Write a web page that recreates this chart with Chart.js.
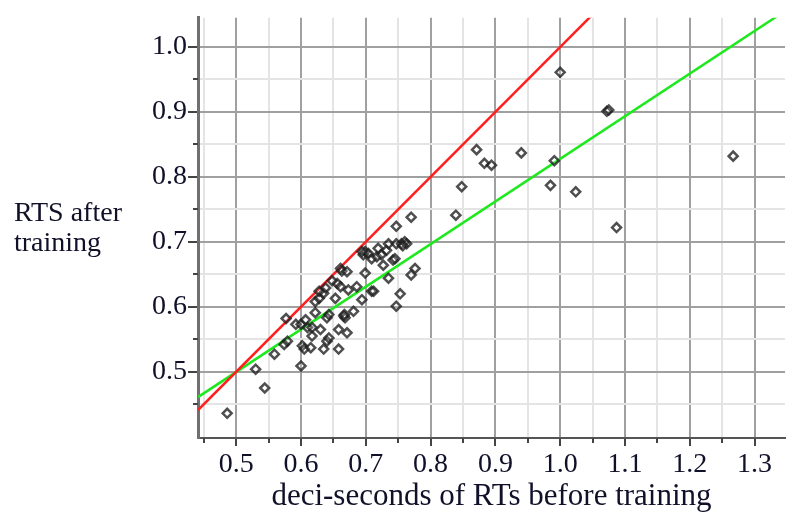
<!DOCTYPE html>
<html>
<head>
<meta charset="utf-8">
<script src="https://cdn.jsdelivr.net/npm/chart.js@4.4.1/dist/chart.umd.min.js"></script>
<style>
  html, body { margin: 0; padding: 0; background: #fff; }
  #wrap { width: 792px; height: 515px; position: relative; }
</style>
</head>
<body>
<div id="wrap"><canvas id="myChart" width="792" height="515"></canvas></div>
<script>
// RT before training (x) vs after training (y), deci-seconds
const rtBefore = [0.486, 0.544, 0.530, 0.559, 0.577, 0.600, 0.574, 0.579, 0.592, 0.600,
    0.607, 0.610, 0.602, 0.605, 0.615, 0.617, 0.617, 0.630, 0.622, 0.622,
    0.628, 0.635, 0.628, 0.638, 0.635, 0.640, 0.643, 0.658, 0.658, 0.671,
    0.640, 0.643, 0.666, 0.668, 0.681, 0.653, 0.656, 0.661, 0.661, 0.663,
    0.671, 0.673, 0.686, 0.694, 0.699, 0.709, 0.712, 0.696, 0.699, 0.704,
    0.709, 0.717, 0.719, 0.724, 0.732, 0.735, 0.727, 0.735, 0.742, 0.745,
    0.747, 0.755, 0.760, 0.763, 0.770, 0.776, 0.753, 0.747, 0.747, 0.770,
    0.839, 0.848, 0.871, 0.883, 0.894, 0.940, 0.985, 0.991, 1.000, 1.024,
    1.072, 1.075, 1.087, 1.267, 0.648, 0.694, 0.757, 0.667];
const rtAfter = [0.436, 0.475, 0.504, 0.527, 0.582, 0.509, 0.542, 0.547, 0.573, 0.573,
    0.580, 0.568, 0.540, 0.535, 0.537, 0.555, 0.568, 0.565, 0.591, 0.608,
    0.613, 0.621, 0.624, 0.629, 0.535, 0.547, 0.552, 0.535, 0.565, 0.560,
    0.583, 0.588, 0.586, 0.583, 0.593, 0.613, 0.636, 0.631, 0.659, 0.655,
    0.654, 0.626, 0.631, 0.611, 0.652, 0.624, 0.624, 0.680, 0.685, 0.682,
    0.674, 0.677, 0.690, 0.680, 0.687, 0.697, 0.664, 0.644, 0.672, 0.674,
    0.697, 0.697, 0.700, 0.697, 0.649, 0.659, 0.620, 0.601, 0.724, 0.738,
    0.741, 0.785, 0.842, 0.821, 0.818, 0.837, 0.787, 0.825, 0.961, 0.777,
    0.901, 0.903, 0.722, 0.832, 0.640, 0.685, 0.694, 0.588];

// reference lines
const redX = [0.441, 1.10];
const redY = [0.441, 1.10];
const greenX = [0.441, 1.36];
const greenY = [0.461, 1.064];

const xTicks = [0.45, 0.5, 0.55, 0.6, 0.65, 0.7, 0.75, 0.8, 0.85, 0.9, 0.95, 1.0, 1.05, 1.1, 1.15, 1.2, 1.25, 1.3];
const yTicks = [0.45, 0.5, 0.55, 0.6, 0.65, 0.7, 0.75, 0.8, 0.85, 0.9, 0.95, 1.0];
const xTitle = 'deci-seconds of RTs before training';
const yTitle = ['RTS after', 'training'];

const serif = '"Liberation Serif", "DejaVu Serif", serif';
const isMajor = (v) => Math.abs(Math.round(v * 10) - v * 10) < 1e-6;

function toPoints(xs, ys) {
    return xs.map((x, i) => ({x: x, y: ys[i]}));
}

// short tick marks for the minor values, plus the left-hand axis title
const extras = {
    id: 'extras',
    afterDraw(chart) {
        const ctx = chart.ctx;
        const xs = chart.scales.x, ys = chart.scales.y;
        const area = chart.chartArea;
        ctx.save();
        ctx.strokeStyle = '#444';
        ctx.lineWidth = 2;
        xTicks.filter((v) => !isMajor(v)).forEach((v) => {
            const px = Math.round(xs.getPixelForValue(v));
            ctx.beginPath();
            ctx.moveTo(px, area.bottom);
            ctx.lineTo(px, area.bottom + 5);
            ctx.stroke();
        });
        yTicks.filter((v) => !isMajor(v)).forEach((v) => {
            const py = Math.round(ys.getPixelForValue(v));
            ctx.beginPath();
            ctx.moveTo(area.left - 5, py);
            ctx.lineTo(area.left, py);
            ctx.stroke();
        });
        ctx.fillStyle = '#101028';
        ctx.font = '28px ' + serif;
        ctx.textAlign = 'left';
        ctx.textBaseline = 'alphabetic';
        ctx.fillText(yTitle[0], 14, 221);
        ctx.fillText(yTitle[1], 14, 251);
        ctx.restore();
    }
};

const data = {
    datasets: [{
            label: 'RT',
            data: toPoints(rtBefore, rtAfter),
            pointStyle: 'rectRot',
            radius: 4.5,
            borderWidth: 2.5,
            borderColor: 'rgba(30,30,30,0.78)',
            backgroundColor: 'rgba(255,255,255,0.15)',
            order: 1
        },
        {
            label: 'y = x',
            data: toPoints(redX, redY),
            showLine: true,
            borderColor: '#ff1f1f',
            borderWidth: 2.5,
            radius: 0,
            order: 2
        },
        {
            label: 'fit',
            data: toPoints(greenX, greenY),
            showLine: true,
            borderColor: '#1ee81e',
            borderWidth: 2.5,
            radius: 0,
            order: 2
        }
    ]
};

const config = {
    type: 'scatter',
    data,
    options: {
        responsive: false,
        animation: false,
        layout: {padding: {top: 14, right: 0, left: 0, bottom: 0}},
        plugins: {legend: {display: false}, tooltip: {enabled: false}},
        scales: {
            x: {
                type: 'linear',
                min: 0.441,
                max: 1.347,
                afterBuildTicks: (scale) => { scale.ticks = xTicks.map((v) => ({value: v})); },
                afterFit: (scale) => { scale.height = 77; },
                grid: {
                    color: (c) => isMajor(c.tick.value) ? '#a0a0a0' : '#e4e4e4',
                    lineWidth: 2,
                    tickLength: 8,
                    tickColor: (c) => isMajor(c.tick.value) ? '#444' : 'rgba(0,0,0,0)',
                    tickWidth: 2
                },
                border: {color: '#555', width: 2},
                ticks: {
                    autoSkip: false,
                    maxRotation: 0,
                    padding: 2,
                    color: '#101028',
                    font: {family: serif, size: 28},
                    callback: (v) => isMajor(v) ? v.toFixed(1) : ''
                },
                title: {
                    display: true,
                    text: xTitle,
                    color: '#101028',
                    font: {family: serif, size: 31},
                    padding: {top: 3, bottom: 0}
                }
            },
            y: {
                type: 'linear',
                min: 0.398,
                max: 1.045,
                afterBuildTicks: (scale) => { scale.ticks = yTicks.map((v) => ({value: v})); },
                afterFit: (scale) => { scale.width = 198; },
                grid: {
                    color: (c) => isMajor(c.tick.value) ? '#a0a0a0' : '#e4e4e4',
                    lineWidth: 2,
                    tickLength: 10,
                    tickColor: (c) => isMajor(c.tick.value) ? '#444' : 'rgba(0,0,0,0)',
                    tickWidth: 2
                },
                border: {color: '#707070', width: 3},
                ticks: {
                    autoSkip: false,
                    padding: 1,
                    color: '#101028',
                    font: {family: serif, size: 28},
                    callback: (v) => isMajor(v) ? v.toFixed(1) : ''
                }
            }
        }
    },
    plugins: [extras]
};

let myChart = new Chart(document.getElementById('myChart'), config);
</script>
</body>
</html>
